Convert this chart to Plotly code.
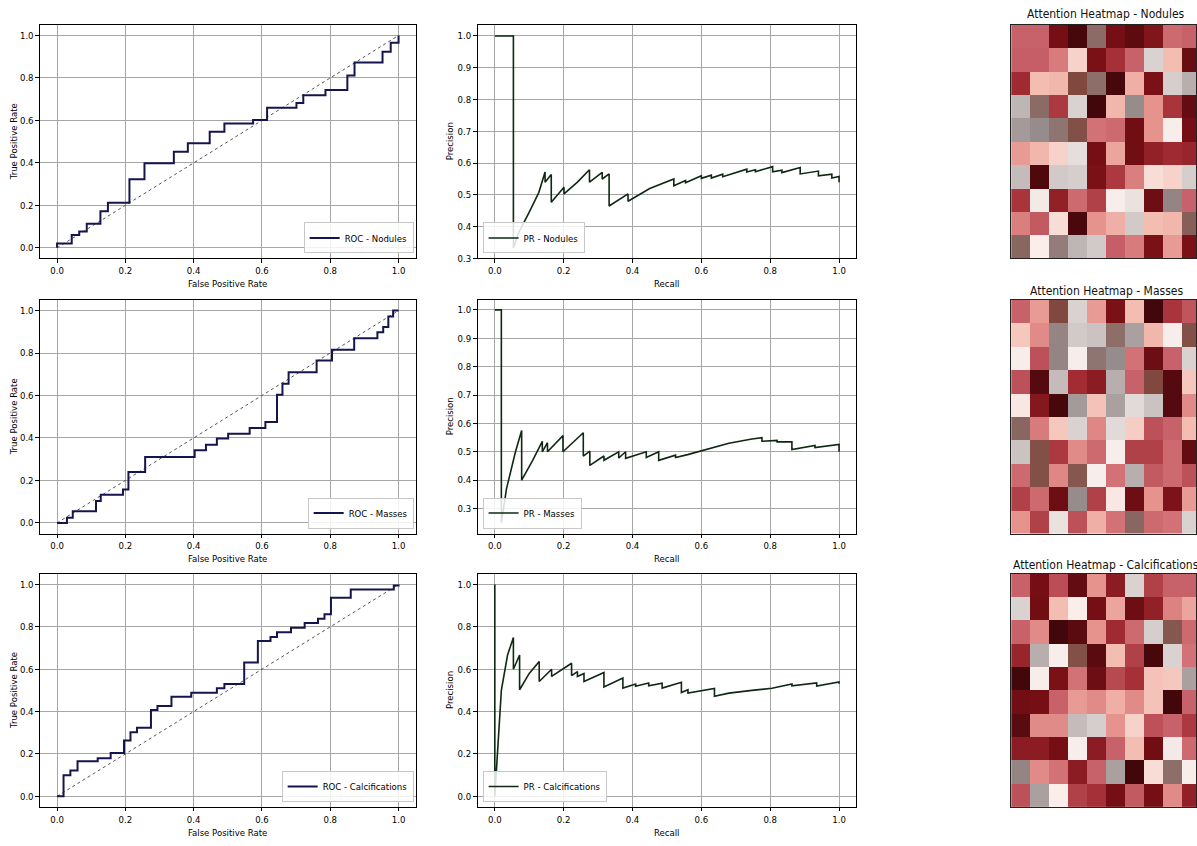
import plotly.graph_objects as go

FIG_W, FIG_H = 1197, 846
FONT = "DejaVu Sans Condensed, Liberation Sans Narrow, DejaVu Sans, sans-serif"

categories = ["Nodules", "Masses", "Calcifications"]

# ---------------- ROC data (corner points of the step curves) ----------------
roc_fpr_nodules = [0.0, 0.0, 0.043, 0.065, 0.087, 0.127, 0.149, 0.212, 0.256, 0.342, 0.383, 0.447,
                   0.49, 0.574, 0.615, 0.701, 0.721, 0.786, 0.85, 0.871, 0.953, 0.977, 1.0, 1.0]
roc_tpr_nodules = [0.0, 0.02, 0.06, 0.077, 0.114, 0.172, 0.212, 0.323, 0.398, 0.453, 0.492, 0.547,
                   0.586, 0.602, 0.66, 0.682, 0.719, 0.743, 0.812, 0.873, 0.923, 0.966, 1.0, 1.0]

roc_fpr_masses = [0.0, 0.029, 0.046, 0.114, 0.128, 0.193, 0.209, 0.258, 0.403, 0.436, 0.468, 0.501,
                  0.564, 0.61, 0.644, 0.66, 0.678, 0.76, 0.805, 0.87, 0.938, 0.955, 0.97, 0.984, 1.0]
roc_tpr_masses = [0.0, 0.024, 0.055, 0.103, 0.133, 0.157, 0.24, 0.31, 0.342, 0.368, 0.397, 0.42,
                  0.447, 0.475, 0.603, 0.655, 0.71, 0.765, 0.815, 0.87, 0.898, 0.922, 0.972, 1.0, 1.0]

roc_fpr_calc = [0.0, 0.019, 0.039, 0.06, 0.119, 0.157, 0.196, 0.215, 0.234, 0.275, 0.294, 0.335,
                0.393, 0.468, 0.49, 0.548, 0.588, 0.625, 0.644, 0.685, 0.725, 0.764, 0.783, 0.802,
                0.86, 0.986, 1.0]
roc_tpr_calc = [0.0, 0.10, 0.122, 0.165, 0.18, 0.204, 0.263, 0.302, 0.324, 0.408, 0.426, 0.47,
                0.489, 0.51, 0.53, 0.632, 0.733, 0.752, 0.774, 0.796, 0.818, 0.838, 0.859, 0.937,
                0.976, 0.995, 1.0]

# ---------------- PR data ----------------
pr_recall_nodules = [0.0, 0.054, 0.054, 0.07, 0.1, 0.128, 0.146, 0.146, 0.164, 0.164, 0.201, 0.201,
                     0.24, 0.275, 0.275, 0.312, 0.312, 0.332, 0.332, 0.387, 0.387, 0.45, 0.52, 0.52,
                     0.554, 0.554, 0.6, 0.6, 0.629, 0.629, 0.662, 0.662, 0.732, 0.732, 0.757, 0.757,
                     0.807, 0.807, 0.834, 0.834, 0.887, 0.887, 0.94, 0.94, 0.979, 0.979, 1.0, 1.0]
pr_precision_nodules = [1.0, 1.0, 0.333, 0.383, 0.446, 0.508, 0.572, 0.54, 0.564, 0.477, 0.524, 0.503,
                        0.54, 0.579, 0.54, 0.571, 0.55, 0.566, 0.465, 0.503, 0.48, 0.52, 0.55, 0.529,
                        0.545, 0.538, 0.56, 0.552, 0.562, 0.553, 0.565, 0.557, 0.581, 0.572, 0.579, 0.573,
                        0.589, 0.573, 0.578, 0.57, 0.586, 0.566, 0.575, 0.56, 0.565, 0.553, 0.558, 0.54]

pr_recall_masses = [0.0, 0.019, 0.019, 0.034, 0.06, 0.078, 0.078, 0.11, 0.138, 0.138, 0.153, 0.153,
                    0.198, 0.198, 0.257, 0.257, 0.276, 0.276, 0.317, 0.317, 0.36, 0.36, 0.38, 0.38,
                    0.44, 0.44, 0.476, 0.476, 0.525, 0.525, 0.56, 0.62, 0.68, 0.747, 0.776, 0.776,
                    0.82, 0.82, 0.863, 0.863, 0.93, 0.93, 1.0, 1.0]
pr_precision_masses = [1.0, 1.0, 0.25, 0.37, 0.5, 0.575, 0.4, 0.47, 0.537, 0.5, 0.532, 0.5,
                       0.557, 0.5, 0.567, 0.485, 0.502, 0.452, 0.485, 0.47, 0.5, 0.478, 0.5, 0.477,
                       0.5, 0.48, 0.5, 0.47, 0.488, 0.48, 0.49, 0.51, 0.53, 0.545, 0.55, 0.537,
                       0.54, 0.535, 0.535, 0.508, 0.522, 0.515, 0.526, 0.5]

pr_recall_calc = [0.0, 0.0, 0.019, 0.037, 0.054, 0.054, 0.072, 0.072, 0.1, 0.129, 0.129, 0.165,
                  0.165, 0.195, 0.223, 0.223, 0.24, 0.24, 0.259, 0.259, 0.317, 0.317, 0.372, 0.372,
                  0.409, 0.409, 0.447, 0.447, 0.486, 0.486, 0.542, 0.542, 0.561, 0.561, 0.638, 0.638,
                  0.68, 0.747, 0.805, 0.863, 0.863, 0.935, 0.935, 1.0, 1.0]
pr_precision_calc = [1.0, 0.0, 0.5, 0.667, 0.75, 0.6, 0.667, 0.503, 0.58, 0.636, 0.542, 0.6,
                     0.566, 0.6, 0.628, 0.57, 0.589, 0.566, 0.58, 0.542, 0.584, 0.516, 0.558, 0.511,
                     0.53, 0.52, 0.535, 0.522, 0.534, 0.511, 0.538, 0.49, 0.503, 0.487, 0.509, 0.472,
                     0.487, 0.5, 0.51, 0.53, 0.522, 0.535, 0.52, 0.54, 0.531]

# ---------------- Attention heatmaps (10 x 10) ----------------
heat_nodules = [
    [0.38, 0.38, 0.12, 0.02, 0.955, 0.12, 0.07, 0.15, 0.40, 0.38],
    [0.37, 0.37, 0.44, 0.66, 0.13, 0.26, 0.38, 0.80, 0.62, 0.09],
    [0.24, 0.62, 0.60, 1.00, 0.95, 0.02, 0.58, 0.13, 0.81, 0.86],
    [0.85, 0.955, 0.28, 0.80, 0.01, 0.60, 0.91, 0.50, 0.27, 0.08],
    [0.89, 0.91, 0.94, 0.99, 0.42, 0.40, 0.11, 0.50, 0.73, 0.12],
    [0.52, 0.60, 0.66, 0.77, 0.12, 0.55, 0.11, 0.20, 0.24, 0.22],
    [0.84, 0.04, 0.82, 0.81, 0.13, 0.28, 0.45, 0.68, 0.66, 0.81],
    [0.27, 0.74, 0.20, 0.40, 0.30, 0.73, 0.76, 0.10, 0.92, 0.38],
    [0.45, 0.36, 0.68, 0.03, 0.50, 0.58, 0.82, 0.62, 0.60, 0.97],
    [0.96, 0.71, 0.93, 0.85, 0.82, 0.37, 0.44, 0.13, 0.52, 0.13],
]
heat_masses = [
    [0.38, 0.52, 1.00, 0.80, 0.52, 0.13, 0.62, 0.01, 0.27, 0.35],
    [0.64, 0.48, 0.92, 0.82, 0.83, 0.95, 0.88, 0.60, 0.73, 0.99],
    [0.73, 0.34, 0.92, 0.73, 0.94, 0.91, 0.42, 0.10, 0.38, 0.80],
    [0.34, 0.05, 0.84, 0.25, 0.18, 0.86, 0.38, 1.00, 0.05, 0.64],
    [0.70, 0.16, 0.02, 0.89, 0.63, 0.88, 0.78, 0.83, 0.05, 0.48],
    [0.96, 0.44, 0.64, 0.80, 0.47, 0.78, 0.65, 0.34, 0.38, 0.62],
    [0.83, 0.99, 0.28, 0.48, 0.40, 0.73, 0.30, 0.30, 0.40, 0.08],
    [0.40, 0.99, 0.47, 0.98, 0.73, 0.42, 0.86, 0.36, 0.40, 0.34],
    [0.30, 0.40, 0.10, 0.91, 0.30, 0.70, 0.10, 0.50, 0.14, 0.52],
    [0.50, 0.30, 0.76, 0.34, 0.58, 0.42, 0.96, 0.40, 0.42, 0.80],
]
heat_calc = [
    [0.38, 0.12, 0.33, 0.08, 0.50, 0.18, 0.80, 0.30, 0.38, 0.38],
    [0.80, 0.11, 0.62, 0.71, 0.12, 0.55, 0.10, 0.20, 0.46, 0.55],
    [0.38, 0.48, 0.01, 0.06, 0.50, 0.24, 0.40, 0.81, 0.98, 0.40],
    [0.22, 0.86, 0.73, 0.99, 0.06, 0.62, 0.30, 0.02, 0.80, 0.42],
    [0.01, 0.73, 0.13, 0.42, 0.10, 0.32, 0.26, 0.63, 0.64, 0.88],
    [0.11, 0.12, 0.38, 0.52, 0.48, 0.58, 0.48, 0.63, 0.01, 0.38],
    [0.06, 0.48, 0.48, 0.84, 0.81, 0.50, 0.66, 0.34, 0.38, 0.28],
    [0.18, 0.18, 0.12, 0.73, 0.18, 0.38, 0.62, 0.11, 0.74, 0.40],
    [0.92, 0.48, 0.42, 0.18, 0.38, 0.88, 0.01, 0.68, 0.95, 0.73],
    [0.34, 0.88, 0.71, 0.30, 0.26, 0.12, 0.36, 0.12, 0.48, 0.20],
]

heat_colorscale = [
    [0.00, "#3c0609"], [0.12, "#760f15"], [0.25, "#a32c33"], [0.38, "#c8626a"],
    [0.50, "#e6938e"], [0.62, "#f3bdb2"], [0.72, "#fbf2f0"], [0.82, "#d2c9c9"],
    [0.91, "#978c8c"], [1.00, "#80483e"],
]

roc_data = [(roc_fpr_nodules, roc_tpr_nodules), (roc_fpr_masses, roc_tpr_masses), (roc_fpr_calc, roc_tpr_calc)]
pr_data = [(pr_recall_nodules, pr_precision_nodules), (pr_recall_masses, pr_precision_masses),
           (pr_recall_calc, pr_precision_calc)]
heat_data = [heat_nodules, heat_masses, heat_calc]
pr_yrange = [[0.3, 1.035], [0.212, 1.035], [-0.05, 1.05]]
pr_dtick = [0.1, 0.1, 0.2]

ROC_COLOR = "#15154e"
PR_COLOR = "#0e2812"

# ---------------- layout geometry (pixels) ----------------
row_top = [25, 301.7, 577.3]
row_bot = [260, 536.7, 811.7]
col_roc = (40, 416)
col_pr = (478, 857)
col_hm = (1012, 1197)
hm_cell_px = 19.0


def fx(p):
    return p / FIG_W


def fy(p):
    return 1 - p / FIG_H


fig = go.Figure()
layout = {}
annotations = []

axis_style = dict(
    showline=True, linecolor="black", linewidth=1, mirror=True,
    showgrid=True, gridcolor="#a6a6a6", gridwidth=1, zeroline=False,
    ticks="outside", ticklen=3.5, tickcolor="black", tickwidth=1,
    tickfont=dict(family=FONT, size=9.5, color="black"),
)

for r, name in enumerate(categories):
    ydom = [fy(row_bot[r]), fy(row_top[r])]
    i_roc, i_pr, i_hm = 3 * r + 1, 3 * r + 2, 3 * r + 3

    def axname(i, kind):
        return f"{kind}axis" if i == 1 else f"{kind}axis{i}"

    def ref(i, kind):
        return kind if i == 1 else f"{kind}{i}"

    # ROC axes
    layout[axname(i_roc, "x")] = dict(axis_style, domain=[fx(col_roc[0]), fx(col_roc[1])],
                                      range=[-0.05, 1.05], tick0=0, dtick=0.2, tickformat=".1f",
                                      anchor=ref(i_roc, "y"))
    layout[axname(i_roc, "y")] = dict(axis_style, domain=ydom, range=[-0.05, 1.05], tick0=0,
                                      dtick=0.2, tickformat=".1f", anchor=ref(i_roc, "x"))
    # PR axes
    layout[axname(i_pr, "x")] = dict(axis_style, domain=[fx(col_pr[0]), fx(col_pr[1])],
                                     range=[-0.05, 1.05], tick0=0, dtick=0.2, tickformat=".1f",
                                     anchor=ref(i_pr, "y"))
    layout[axname(i_pr, "y")] = dict(axis_style, domain=ydom, range=pr_yrange[r], tick0=0,
                                     dtick=pr_dtick[r], tickformat=".1f", anchor=ref(i_pr, "x"))
    # heatmap axes
    hm_xmax = -0.5 + (col_hm[1] - col_hm[0]) / hm_cell_px
    layout[axname(i_hm, "x")] = dict(domain=[fx(col_hm[0]), fx(col_hm[1])], range=[-0.5, hm_xmax],
                                     showticklabels=False, ticks="", showgrid=False, zeroline=False,
                                     showline=True, linecolor="#222", linewidth=1, mirror=True,
                                     anchor=ref(i_hm, "y"))
    layout[axname(i_hm, "y")] = dict(domain=ydom, range=[9.5, -0.5], showticklabels=False, ticks="",
                                     showgrid=False, zeroline=False, showline=True, linecolor="#222",
                                     linewidth=1, mirror=True, anchor=ref(i_hm, "x"))

    leg_roc = "legend" if r == 0 else f"legend{2 * r + 1}"
    leg_pr = f"legend{2 * r + 2}"

    # ROC diagonal and curve
    fig.add_trace(go.Scatter(x=[0, 1], y=[0, 1], mode="lines",
                             line=dict(color="#2a2a2a", width=0.8, dash="dot"),
                             showlegend=False, hoverinfo="skip",
                             xaxis=ref(i_roc, "x"), yaxis=ref(i_roc, "y")))
    fpr, tpr = roc_data[r]
    fig.add_trace(go.Scatter(x=fpr, y=tpr, mode="lines", line=dict(color=ROC_COLOR, width=2, shape="hv"),
                             name=f"ROC - {name}", legend=leg_roc,
                             xaxis=ref(i_roc, "x"), yaxis=ref(i_roc, "y")))
    rec, prec = pr_data[r]
    fig.add_trace(go.Scatter(x=rec, y=prec, mode="lines", line=dict(color=PR_COLOR, width=1.6),
                             name=f"PR - {name}", legend=leg_pr,
                             xaxis=ref(i_pr, "x"), yaxis=ref(i_pr, "y")))
    fig.add_trace(go.Heatmap(z=heat_data[r], colorscale=heat_colorscale, zmin=0, zmax=1,
                             showscale=False, hoverinfo="skip",
                             xaxis=ref(i_hm, "x"), yaxis=ref(i_hm, "y")))

    leg_common = dict(bgcolor="rgba(255,255,255,0.85)", bordercolor="#c8c8c8", borderwidth=1,
                      font=dict(family=FONT, size=9.5, color="black"), itemwidth=30,
                      tracegroupgap=0, xref="paper", yref="paper")
    layout[leg_roc] = dict(leg_common, x=fx(414), y=fy(row_bot[r] - 5), xanchor="right", yanchor="bottom")
    layout[leg_pr] = dict(leg_common, x=fx(483), y=fy(row_bot[r] - 5), xanchor="left", yanchor="bottom")

    mid_y = (row_top[r] + row_bot[r]) / 2
    annotations += [
        dict(text="True Positive Rate", x=fx(13.5), y=fy(mid_y), textangle=-90),
        dict(text="False Positive Rate", x=fx((col_roc[0] + col_roc[1]) / 2), y=fy(row_bot[r] + 25.5)),
        dict(text="Precision", x=fx(450), y=fy(mid_y), textangle=-90),
        dict(text="Recall", x=fx((col_pr[0] + col_pr[1]) / 2), y=fy(row_bot[r] + 25.5)),
    ]

hm_title_y = [14, 293, 568]
for r, name in enumerate(categories):
    annotations.append(dict(text=f"Attention Heatmap - {name}",
                            x=fx(col_hm[0] + 5 * hm_cell_px), y=fy(hm_title_y[r]),
                            font=dict(family=FONT, size=12, color="#111")))

for a in annotations:
    a.setdefault("font", dict(family=FONT, size=9.5, color="black"))
    a.update(xref="paper", yref="paper", showarrow=False, xanchor="center", yanchor="middle")

fig.update_layout(
    width=FIG_W, height=FIG_H, margin=dict(l=0, r=0, t=0, b=0),
    paper_bgcolor="white", plot_bgcolor="white",
    font=dict(family=FONT, size=9.5, color="black"),
    annotations=annotations, **layout,
)

fig.write_html("out.html")
